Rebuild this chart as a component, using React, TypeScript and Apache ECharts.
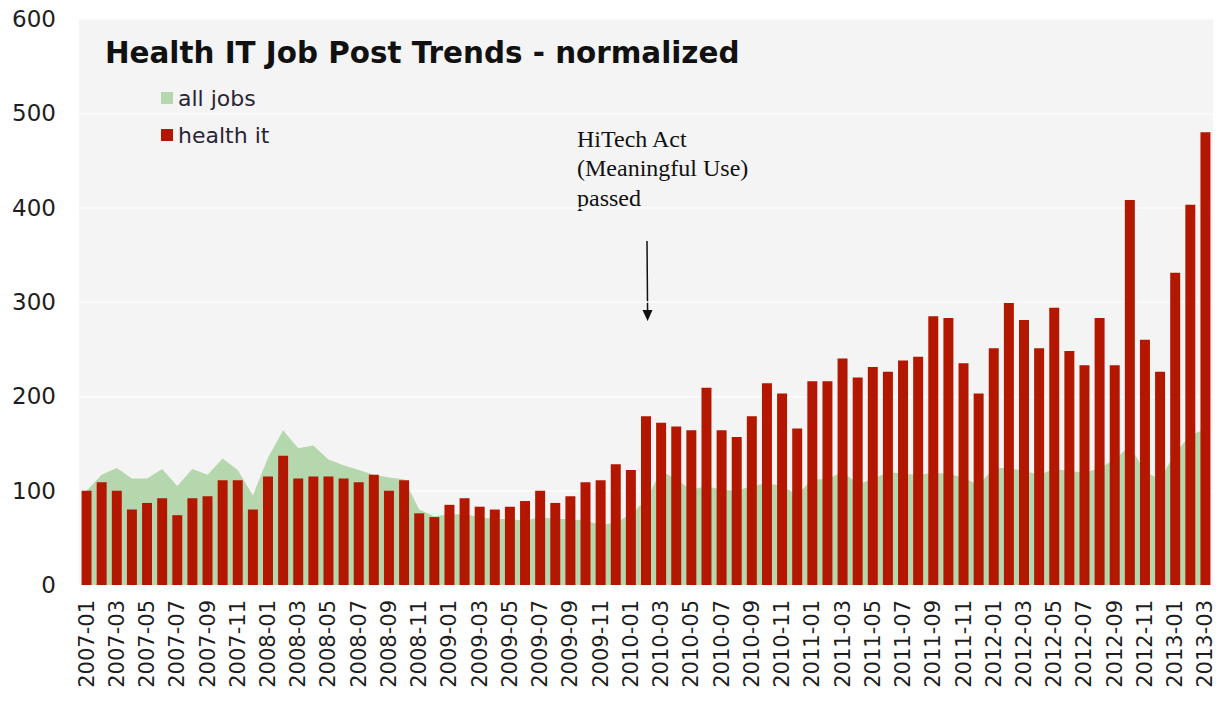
import React, { useEffect, useRef } from "react";
import * as echarts from "echarts";

const months: string[] = [];
for (let y = 2007; y <= 2013; y++) {
  for (let m = 1; m <= 12; m++) {
    if (y === 2013 && m > 3) break;
    months.push(`${y}-${m < 10 ? "0" + m : m}`);
  }
}

const healthIt = [
  100, 109, 100, 80, 87, 92, 74, 92, 94, 111, 111, 80,
  115, 137, 113, 115, 115, 113, 109, 117, 100, 111, 76, 72,
  85, 92, 83, 80, 83, 89, 100, 87, 94, 109, 111, 128,
  122, 179, 172, 168, 164, 209, 164, 157, 179, 214, 203, 166,
  216, 216, 240, 220, 231, 226, 238, 242, 285, 283, 235, 203,
  251, 299, 281, 251, 294, 248, 233, 283, 233, 408, 260, 226,
  331, 403, 480,
];

const allJobs = [
  100, 117, 124, 113, 113, 123, 105, 123, 117, 134, 122, 95,
  135, 164, 145, 148, 133, 127, 122, 117, 114, 112, 80, 73,
  75, 75, 72, 70, 70, 68, 72, 70, 70, 68, 64, 66,
  75, 90, 121, 112, 101, 105, 101, 100, 105, 108, 105, 96,
  112, 112, 120, 107, 112, 120, 118, 117, 119, 118, 114, 106,
  124, 124, 121, 117, 123, 121, 119, 124, 133, 148, 120, 112,
  140, 159, 165,
];

const yTicks = { min: 0, max: 600, interval: 100 };

const TITLE = "Health IT Job Post Trends - normalized";
const ANNOTATION = "HiTech Act\n(Meaningful Use)\npassed";

export default function App() {
  const ref = useRef<HTMLDivElement>(null);
  useEffect(() => {
    document.body.style.margin = "0";
    const chart = echarts.init(ref.current!, null, { renderer: "svg" });
    chart.setOption({
      animation: false,
      backgroundColor: "#ffffff",
      title: {
        text: TITLE,
        left: 105,
        top: 38,
        padding: 0,
        textStyle: {
          fontFamily: "DejaVu Sans",
          fontWeight: "bold",
          fontSize: 29.4,
          color: "#111111",
        },
      },
      legend: {
        orient: "vertical",
        left: 161,
        top: 87,
        padding: 0,
        itemWidth: 12,
        itemHeight: 12,
        itemGap: 15,
        icon: "rect",
        data: ["all jobs", "health it"],
        textStyle: {
          fontFamily: "DejaVu Sans",
          fontSize: 22,
          color: "#2a2535",
        },
      },
      grid: {
        left: 79,
        right: 7,
        top: 19,
        bottom: 116,
        show: true,
        backgroundColor: "#f4f4f4",
        borderWidth: 0,
        outerBoundsMode: "none",
      },
      xAxis: {
        type: "category",
        data: months,
        boundaryGap: true,
        axisLine: { show: false },
        axisTick: { show: false },
        axisLabel: {
          interval: 1,
          rotate: 90,
          margin: 15,
          fontFamily: "DejaVu Sans",
          fontSize: 21,
          color: "#1e1e1e",
        },
      },
      yAxis: {
        type: "value",
        min: yTicks.min,
        max: yTicks.max,
        interval: yTicks.interval,
        axisLine: { show: false },
        axisTick: { show: false },
        axisLabel: {
          margin: 23,
          fontFamily: "DejaVu Sans",
          fontSize: 23,
          color: "#1e1e1e",
        },
        splitLine: { lineStyle: { color: "#fcfcfc", width: 1.5 } },
      },
      series: [
        {
          name: "all jobs",
          type: "line",
          data: allJobs,
          symbol: "none",
          lineStyle: { width: 0, color: "#b5d7ad" },
          itemStyle: { color: "#b5d7ad" },
          areaStyle: { color: "#b5d7ad", opacity: 1 },
          z: 1,
        },
        {
          name: "health it",
          type: "bar",
          data: healthIt,
          barCategoryGap: "34%",
          itemStyle: { color: "#b41700" },
          z: 2,
        },
      ],
      graphic: [
        {
          type: "text",
          left: 577,
          top: 124,
          style: {
            text: ANNOTATION,
            fontFamily: "Liberation Serif",
            fontSize: 24,
            lineHeight: 29.5,
            fill: "#111111",
          },
        },
        {
          type: "line",
          shape: { x1: 647, y1: 241, x2: 647.6, y2: 314 },
          style: { stroke: "#111111", lineWidth: 1.5 },
        },
        {
          type: "polygon",
          shape: {
            points: [
              [642.5, 310],
              [652.5, 310],
              [647.6, 321],
            ],
          },
          style: { fill: "#111111" },
        },
      ],
    });
    return () => chart.dispose();
  }, []);
  return <div ref={ref} style={{ width: 1220, height: 701 }} />;
}
